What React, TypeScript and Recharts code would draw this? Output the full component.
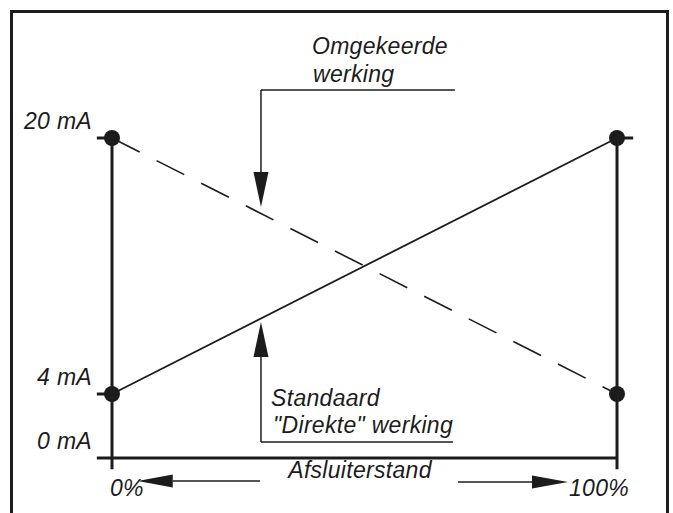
// Afsluiterstand vs. stuurstroom: standaard ("direkte") en omgekeerde werking
import { ComposedChart, Line, XAxis, YAxis, ReferenceLine, ReferenceDot } from 'recharts'

const positions = [0, 100]
const directCurrent = [4, 20]
const reverseCurrent = [20, 4]
const currentTicks = [0, 4, 20]
const currentLabels = ['0 mA', '4 mA', '20 mA']
const positionLabels = ['0%', '100%']

const chartData = positions.map((pos, i) => ({
  pos,
  direct: directCurrent[i],
  reverse: reverseCurrent[i],
}))

const INK = '#1c1c1c'
const FONT = '"Liberation Sans", Arial, Helvetica, sans-serif'

const textStyle = {
  fontFamily: FONT,
  fontStyle: 'italic' as const,
  fontSize: 23,
  letterSpacing: 0.3,
  fill: INK,
}

// pijl van (x1,y1) naar de punt (x2,y2)
function arrowShape(headLen: number, headHalf: number) {
  return (props: any) => {
    const { x1, y1, x2, y2 } = props
    const dx = x2 - x1
    const dy = y2 - y1
    const d = Math.hypot(dx, dy) || 1
    const ux = dx / d
    const uy = dy / d
    const bx = x2 - ux * headLen
    const by = y2 - uy * headLen
    const px = -uy * headHalf
    const py = ux * headHalf
    return (
      <g>
        <line x1={x1} y1={y1} x2={bx} y2={by} stroke={INK} strokeWidth={1.5} />
        <polygon points={`${x2},${y2} ${bx + px},${by + py} ${bx - px},${by - py}`} fill={INK} />
      </g>
    )
  }
}

function textShape(value: string, anchor: 'start' | 'middle' | 'end' = 'start') {
  return (props: any) => (
    <text x={props.cx} y={props.cy} textAnchor={anchor} style={textStyle}>
      {value}
    </text>
  )
}

function CurrentTick({ x, y, payload }: any) {
  const idx = currentTicks.indexOf(payload.value)
  return (
    <text x={x} y={y - 9} textAnchor="end" style={textStyle}>
      {currentLabels[idx]}
    </text>
  )
}

const axisStroke = { stroke: INK, strokeWidth: 3, ifOverflow: 'visible' as const }
const thinStroke = { stroke: INK, strokeWidth: 1.5, ifOverflow: 'visible' as const }

export default function App() {
  return (
    <div style={{ position: 'absolute', left: 0, top: 0, width: 673, height: 513, overflow: 'hidden', background: '#fff' }}>
      <div
        style={{
          position: 'absolute',
          left: 10,
          top: 10,
          width: 653,
          height: 540,
          border: `3px solid ${INK}`,
        }}
      />
      <div style={{ position: 'absolute', left: 0, top: 0 }}>
        <ComposedChart width={673} height={513} data={chartData} margin={{ top: 138, right: 56, bottom: 55, left: 12 }}>
          <XAxis dataKey="pos" type="number" domain={[0, 100]} hide />
          <YAxis
            type="number"
            domain={[0, 20]}
            ticks={currentTicks}
            width={100}
            axisLine={false}
            tickLine={false}
            tickSize={0}
            tickMargin={20}
            tick={<CurrentTick />}
            interval={0}
          />

          {/* assen */}
          <ReferenceLine segment={[{ x: -3, y: 0 }, { x: 100, y: 0 }]} {...axisStroke} />
          <ReferenceLine segment={[{ x: 0, y: 20 }, { x: 0, y: -0.7 }]} {...axisStroke} />
          <ReferenceLine segment={[{ x: 100, y: 20 }, { x: 100, y: -0.7 }]} {...axisStroke} />
          <ReferenceLine segment={[{ x: -3, y: 20 }, { x: 0, y: 20 }]} {...axisStroke} />
          <ReferenceLine segment={[{ x: -3, y: 4 }, { x: 0, y: 4 }]} {...axisStroke} />
          <ReferenceLine segment={[{ x: 100, y: 20 }, { x: 103.2, y: 20 }]} {...axisStroke} />

          <Line
            dataKey="direct"
            type="linear"
            stroke={INK}
            strokeWidth={1.8}
            dot={{ r: 8, fill: INK, stroke: 'none' }}
            activeDot={false}
            isAnimationActive={false}
          />
          <Line
            dataKey="reverse"
            type="linear"
            stroke={INK}
            strokeWidth={1.6}
            strokeDasharray="31 19"
            dot={{ r: 8, fill: INK, stroke: 'none' }}
            activeDot={false}
            isAnimationActive={false}
          />

          {/* omgekeerde werking */}
          <ReferenceLine segment={[{ x: 29.5, y: 23 }, { x: 67.9, y: 23 }]} {...thinStroke} />
          <ReferenceLine
            segment={[{ x: 29.5, y: 23 }, { x: 29.5, y: 15.69 }]}
            ifOverflow="visible"
            shape={arrowShape(35, 7.5)}
          />
          <ReferenceDot x={39.6} y={25.25} r={0} ifOverflow="visible" shape={textShape('Omgekeerde')} />
          <ReferenceDot x={39.8} y={23.5} r={0} ifOverflow="visible" shape={textShape('werking')} />

          {/* standaard werking */}
          <ReferenceLine segment={[{ x: 29.5, y: 1.0 }, { x: 67.5, y: 1.0 }]} {...thinStroke} />
          <ReferenceLine
            segment={[{ x: 29.5, y: 1.0 }, { x: 29.5, y: 8.5 }]}
            ifOverflow="visible"
            shape={arrowShape(35, 7.5)}
          />
          <ReferenceDot x={31.5} y={3.25} r={0} ifOverflow="visible" shape={textShape('Standaard')} />
          <ReferenceDot x={31.9} y={1.56} r={0} ifOverflow="visible" shape={textShape('"Direkte" werking')} />

          {/* afsluiterstand */}
          <ReferenceDot x={34.9} y={-1.22} r={0} ifOverflow="visible" shape={textShape('Afsluiterstand')} />
          <ReferenceLine
            segment={[{ x: 29.3, y: -1.44 }, { x: 5.1, y: -1.44 }]}
            ifOverflow="visible"
            shape={arrowShape(35, 6.5)}
          />
          <ReferenceLine
            segment={[{ x: 68.5, y: -1.5 }, { x: 90.3, y: -1.5 }]}
            ifOverflow="visible"
            shape={arrowShape(36, 6.5)}
          />
          <ReferenceDot x={-0.4} y={-2.375} r={0} ifOverflow="visible" shape={textShape(positionLabels[0])} />
          <ReferenceDot x={90.5} y={-2.375} r={0} ifOverflow="visible" shape={textShape(positionLabels[1])} />
        </ComposedChart>
      </div>
    </div>
  )
}
